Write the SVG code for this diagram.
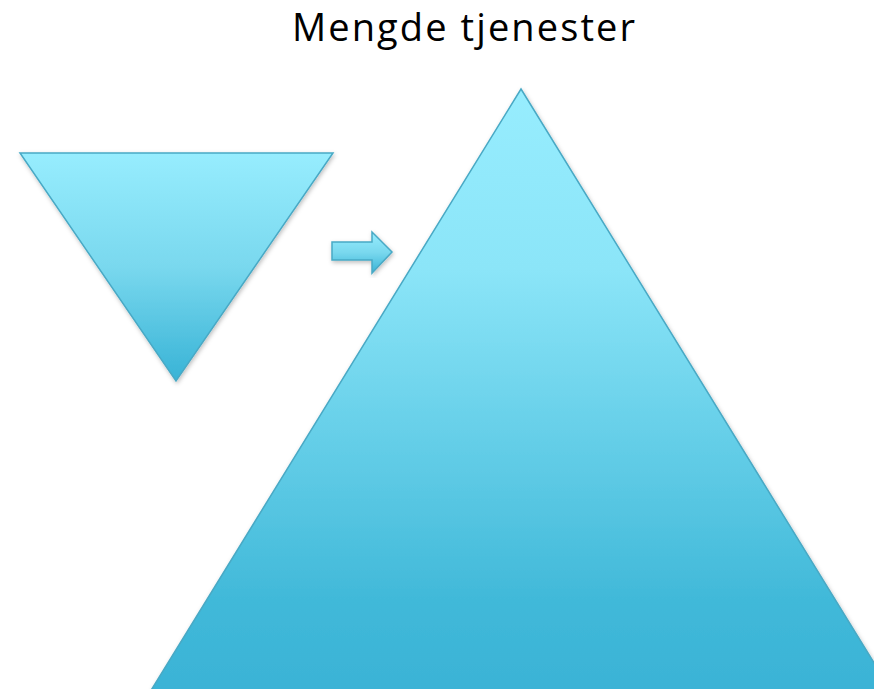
<svg xmlns="http://www.w3.org/2000/svg" width="874" height="689" viewBox="0 0 874 689">
<style>
.shape{stroke:#48a9c5;stroke-width:1.5;stroke-linejoin:miter;filter:url(#sh)}
.title{font-family:"Open Sans","Liberation Sans",sans-serif;font-size:38px;fill:#000}
</style>
<defs>
<linearGradient id="gs" x1="0" y1="0" x2="0" y2="1">
<stop offset="0" stop-color="#97edfe"/>
<stop offset="0.5" stop-color="#79d8ee"/>
<stop offset="1" stop-color="#38b3d6"/>
</linearGradient>
<linearGradient id="gb" gradientUnits="userSpaceOnUse" x1="0" y1="89" x2="0" y2="689">
<stop offset="0" stop-color="#97edfe"/>
<stop offset="0.3" stop-color="#8be5f8"/>
<stop offset="0.85" stop-color="#41b9d9"/>
<stop offset="1" stop-color="#3ab3d6"/>
</linearGradient>
<filter id="sh" x="-10%" y="-10%" width="120%" height="120%">
<feDropShadow dx="1" dy="2" stdDeviation="2" flood-color="#000" flood-opacity="0.25"/>
</filter>
</defs>
<text class="title" x="292" y="41" textLength="343" lengthAdjust="spacing">Mengde tjenester</text>
<g id="small-triangle">
<polygon class="shape" fill="url(#gs)" points="20,153 333,153 176,381"/>
</g>
<g id="arrow">
<polygon class="shape" fill="url(#gs)" points="332,242 372,242 372,232 392,252 372,273 372,260 332,260"/>
</g>
<g id="big-triangle">
<polygon class="shape" fill="url(#gb)" points="521,89 892,692 150,692"/>
</g>
</svg>
